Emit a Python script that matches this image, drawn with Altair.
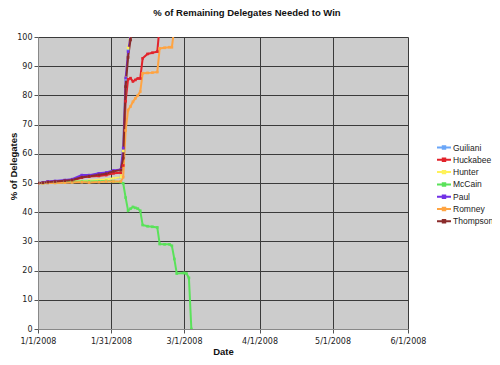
import altair as alt
import pandas as pd

dates = ["2008-01-01", "2008-01-03", "2008-01-05", "2008-01-08", "2008-01-12",
         "2008-01-15", "2008-01-19", "2008-01-22", "2008-01-26", "2008-01-29",
         "2008-02-01", "2008-02-04", "2008-02-05", "2008-02-06", "2008-02-07",
         "2008-02-08", "2008-02-09", "2008-02-10", "2008-02-11", "2008-02-12",
         "2008-02-13", "2008-02-15", "2008-02-17", "2008-02-19", "2008-02-20",
         "2008-02-22", "2008-02-24", "2008-02-25", "2008-02-26", "2008-02-27",
         "2008-03-01", "2008-03-02", "2008-03-03", "2008-03-04"]

guiliani = [50.0, 50.0, 50.0, 50.1, 50.2, 50.3, 50.4, 50.5, 50.6, 50.7, 51.5, 52.0,
            61.0, 85.5, 95.5, 100.5, 106.0]
huckabee = [50.0, 50.1, 50.4, 50.5, 50.7, 50.8, 51.9, 52.2, 52.4, 52.7, 53.3, 53.5,
            56.0, 78.0, 85.5, 85.9, 84.8, 85.3, 85.8, 85.8, 92.7, 94.2, 94.6, 95.0, 104.0]
hunter = [50.0, 50.0, 50.1, 50.2, 50.3, 50.4, 50.6, 50.8, 51.0, 51.2, 51.6, 52.0,
          61.0, 86.0, 96.2, 101.0, 106.0]
mccain = [50.0, 50.0, 50.1, 50.2, 50.3, 50.4, 50.5, 50.5, 50.6, 50.7, 50.5, 50.3,
          49.9, 45.0, 40.5, 41.2, 41.8, 41.5, 41.2, 40.5, 35.6, 35.2, 35.0, 34.8,
          29.1, 29.0, 29.0, 28.5, 24.0, 19.0, 19.2, 19.0, 17.5, 0.0]
paul = [50.0, 50.2, 50.5, 50.7, 51.0, 51.3, 52.7, 52.7, 53.3, 53.6, 54.3, 54.6,
        62.0, 86.0, 95.0, 100.5, 106.0]
romney = [49.9, 49.9, 50.0, 50.0, 50.1, 50.2, 50.3, 50.2, 50.3, 50.5, 50.5, 50.5,
          52.0, 68.0, 75.0, 76.2, 77.8, 79.0, 80.0, 81.3, 87.6, 87.7, 87.8, 88.0,
          96.1, 96.3, 96.5, 96.5, 103.0]
thompson = [50.0, 50.1, 50.3, 50.5, 50.8, 51.0, 52.0, 52.3, 52.8, 53.2, 54.0, 54.4,
            58.5, 83.0, 93.0, 99.0, 104.0]

names = ["Guiliani", "Huckabee", "Hunter", "McCain", "Paul", "Romney", "Thompson"]
colors = ["#6aa6f8", "#e2232b", "#fff25a", "#5ae25a", "#7131e6", "#ffa442", "#8a2b2b"]
series = [guiliani, huckabee, hunter, mccain, paul, romney, thompson]

rows = []
for name, vals in zip(names, series):
    for d, v in zip(dates, vals):
        rows.append({"series": name, "date": d, "value": v})
df = pd.DataFrame(rows)

tick_dates = [alt.DateTime(year=2008, month=m, date=d, utc=True)
              for (m, d) in [(1, 1), (1, 31), (3, 1), (4, 1), (5, 1), (6, 1)]]
y_ticks = list(range(0, 101, 10))

x_enc = alt.X(
    "date:T",
    scale=alt.Scale(type="utc", domain=[tick_dates[0], tick_dates[-1]]),
    axis=alt.Axis(values=tick_dates, format="%-m/%-d/%Y", title="Date",
                  titleY=22, titleBaseline="middle", labelPadding=4,
                  labelFlush=False),
)
y_enc = alt.Y(
    "value:Q",
    scale=alt.Scale(domain=[0, 100], nice=False),
    axis=alt.Axis(values=y_ticks, title="% of Delegates", titleX=-25, titleY=129,
                  titleBaseline="middle", labelPadding=2, labelFlush=False),
)
color_enc = alt.Color(
    "series:N",
    scale=alt.Scale(domain=names, range=colors),
    legend=alt.Legend(
        title=None, orient="none", legendX=401.5, legendY=106,
        symbolType="M-2,0H2M-0.35,-0.35H0.35V0.35H-0.35Z",
        symbolSize=49, symbolStrokeWidth=2, labelFont="Liberation Sans",
        labelFontSize=8.5, labelColor="#222222", labelOffset=4.5,
        rowPadding=1.3, padding=0,
    ),
)

lines = alt.Chart(df).mark_line(strokeWidth=2, clip=True).encode(
    x=x_enc, y=y_enc, color=color_enc
)
points = alt.Chart(df).transform_filter("datum.value <= 100").mark_point(
    shape="square", filled=True, size=7, opacity=1, clip=True
).encode(x=x_enc, y=y_enc, color=color_enc)

chart = alt.layer(lines, points).properties(
    width=370, height=292,
    background="white",
    autosize=alt.AutoSizeParams(type="none"),
    padding={"left": 30, "top": 29, "right": 84, "bottom": 28},
    title=alt.TitleParams(
        "% of Remaining Delegates Needed to Win", font="Liberation Sans",
        fontSize=9.5, fontWeight="bold", anchor="middle", frame="group",
        dx=24, offset=8, baseline="alphabetic", color="#111111",
    ),
).configure_view(fill="#cccccc", stroke="transparent").configure_axis(
    gridColor="#3a3a3a", gridWidth=1, domainColor="#888888", tickColor="#555555",
    tickSize=4, labelFont="DejaVu Sans", labelFontSize=8, labelColor="#222222",
    titleFont="Liberation Sans", titleFontSize=9.5, titleFontWeight="bold",
    titleColor="#111111",
)

chart.save("out.html", embed_options={"renderer": "svg", "actions": False})
